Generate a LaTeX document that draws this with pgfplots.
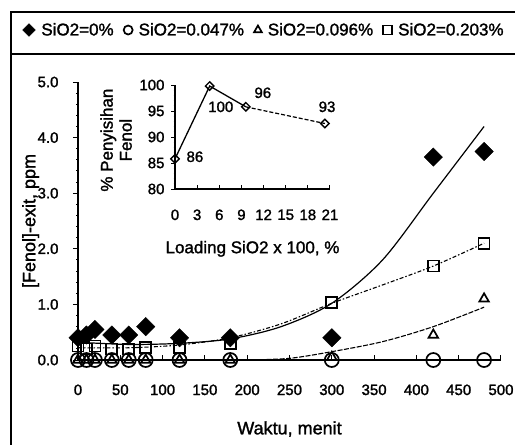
\documentclass[border=0pt]{standalone}
\usepackage{pgfplots}
\pgfplotsset{compat=1.18}
\usepackage{fontspec}
\setmainfont{Liberation Sans}[FakeBold=1.5]

\begin{document}
\begin{tikzpicture}
\useasboundingbox (0,0) rectangle (515pt,-445pt);
% frame of the scanned figure
\draw[line width=2pt] (10pt,-12pt) -- (515pt,-12pt);
\draw[line width=1.4pt] (10pt,-54pt) -- (515pt,-54pt);
\draw[line width=1.4pt] (11pt,-12pt) -- (11pt,-445pt);

% main chart
\begin{axis}[
    at={(78pt,-360pt)}, anchor=south west,
    scale only axis, width=423pt, height=278pt,
    xmin=0, xmax=500, ymin=0, ymax=5,
    clip=false,
    axis x line=bottom, axis y line=left,
    axis line style={-, line width=1.6pt},
    xtick={0,50,...,500}, ytick={0,1,...,5},
    minor y tick num=4,
    xtick align=inside, ytick align=outside,
    major tick length=5pt, minor tick length=1.5pt,
    every tick/.style={black, line width=1pt},
    /pgf/number format/assume math mode=true,
    tick label style={font=\fontsize{15}{17}\selectfont},
    yticklabel style={/pgf/number format/.cd, fixed, fixed zerofill, precision=1},
    xticklabel shift=21pt, yticklabel shift=11pt,
    xlabel={Waktu, menit},
    ylabel={[Fenol]-exit, ppm},
    label style={font=\fontsize{18}{20}\selectfont},
    xlabel style={at={(axis description cs:0.5,-0.248)}, anchor=center},
    ylabel style={at={(axis description cs:-0.112,0.5)}, anchor=center},
    legend style={at={(axis description cs:0.44,1.187)}, anchor=center,
        draw=none, fill=none, font=\fontsize{17}{20}\selectfont,
        legend columns=-1,
        /tikz/every even column/.append style={column sep=8pt},
        /tikz/every odd column/.append style={column sep=4pt}},
    legend image post style={mark size=4.5pt},
]
% trend lines
\addplot[forget plot, smooth, line width=1.2pt] coordinates {
    (0,0.32)(60,0.28)(120,0.30)(180,0.38)(240,0.60)(300,1.02)(360,1.80)(420,3.00)(480,4.20)};
\addplot[forget plot, smooth, line width=1.1pt, dash pattern=on 4pt off 2pt on 1.5pt off 2pt] coordinates {
    (0,0.22)(60,0.22)(120,0.27)(180,0.40)(240,0.65)(300,1.02)(360,1.35)(420,1.69)(480,2.10)};
\addplot[forget plot, smooth, line width=1.1pt, dash pattern=on 5pt off 1.5pt] coordinates {
    (200,0)(250,0.03)(300,0.15)(360,0.33)(420,0.60)(480,0.95)};

% measured points
\addplot[only marks, mark=square*, mark size=6.5pt, mark options={rotate=45, fill=black}]
    coordinates {(0,0.40)(10,0.45)(20,0.55)(40,0.45)(60,0.45)(80,0.60)(120,0.40)(180,0.40)(300,0.40)(420,3.65)(480,3.75)};
\addlegendentry{SiO2=0\%}
\addplot[only marks, mark=o, mark size=7pt, mark options={line width=1.7pt, fill=white}]
    coordinates {(0,0)(10,0)(20,0)(40,0)(60,0)(80,0)(120,0)(180,0)(300,0)(420,0)(480,0)};
\addlegendentry{SiO2=0.047\%}
\addplot[only marks, mark=triangle, mark size=5.5pt, mark options={line width=1.7pt, fill=white}]
    coordinates {(0,0)(10,0)(20,0)(40,0)(60,0)(80,0)(120,0)(180,0)(300,0.05)(420,0.45)(480,1.10)};
\addlegendentry{SiO2=0.096\%}
\addplot[only marks, mark=square, mark size=5.5pt, mark options={line width=1.7pt, fill=white}]
    coordinates {(0,0.25)(10,0.20)(20,0.25)(40,0.20)(60,0.20)(80,0.22)(120,0.22)(180,0.30)(300,1.04)(420,1.69)(480,2.10)};
\addlegendentry{SiO2=0.203\%}
\end{axis}

% inset chart
\begin{axis}[
    at={(175pt,-189pt)}, anchor=south west,
    scale only axis, width=155pt, height=104pt,
    xmin=0, xmax=21, ymin=80, ymax=100,
    clip=false,
    axis x line=bottom, axis y line=left,
    axis line style={-, line width=1.5pt},
    xtick={0,3,...,21}, ytick={80,85,...,100},
    minor y tick num=4,
    xtick align=inside, ytick align=outside,
    major tick length=4pt, minor tick length=1.5pt,
    every tick/.style={black, line width=1pt},
    /pgf/number format/assume math mode=true,
    tick label style={font=\fontsize{15}{17}\selectfont},
    xticklabel shift=17pt, yticklabel shift=3pt,
    xlabel={Loading SiO2 x 100, \%},
    ylabel={\% Penyisihan\\Fenol},
    label style={font=\fontsize{17}{19}\selectfont},
    xlabel style={at={(axis description cs:0.5,-0.575)}, anchor=center},
    ylabel style={at={(axis description cs:-0.38,0.47)}, anchor=center, align=center},
]
\addplot[line width=1.3pt] coordinates {(0,85.8)(4.7,99.8)(9.6,95.8)};
\addplot[line width=1.2pt, dash pattern=on 4pt off 2pt] coordinates {(9.6,95.8)(20.3,92.6)};
\addplot[only marks, mark=square, mark size=3pt, mark options={rotate=45, line width=1.4pt, fill=white}]
    coordinates {(0,85.8)(4.7,99.8)(9.6,95.8)(20.3,92.6)};
\begin{scope}[font=\fontsize{15}{17}\selectfont]
\node at (axis cs:2.7,86.2) {86};
\node at (axis cs:6.2,95.8) {100};
\node at (axis cs:11.9,98.5) {96};
\node at (axis cs:20.6,95.8) {93};
\end{scope}
\end{axis}
\end{tikzpicture}
\end{document}
